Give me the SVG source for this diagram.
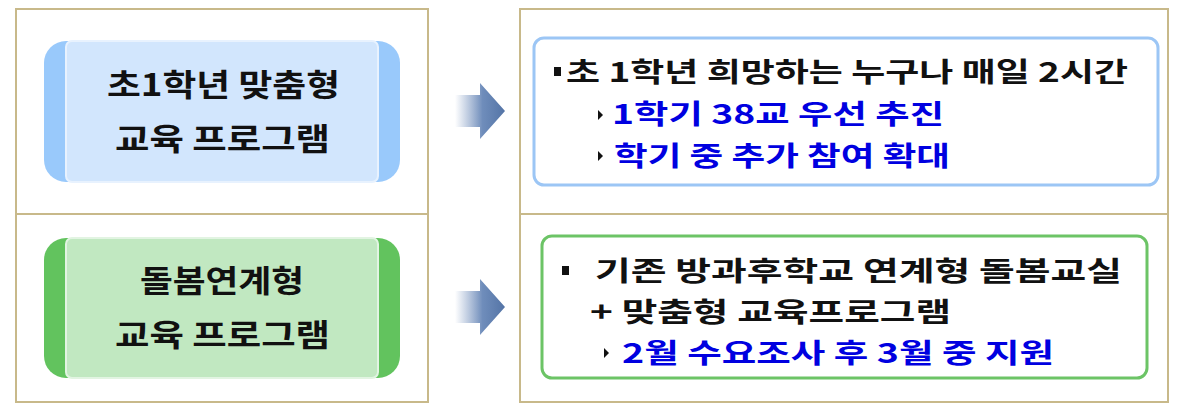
<svg xmlns="http://www.w3.org/2000/svg" width="1180" height="416" viewBox="0 0 1180 416">
<style>
.t{font-family:"Noto Sans CJK KR","Liberation Sans",sans-serif;font-weight:bold}
.lt{font-size:31px;fill:#111}
.rt{font-size:27px;fill:#111}
.bl{font-size:27px;fill:#0000e0}
.frame{fill:#fff;stroke:#c8b98a;stroke-width:2}
</style>
<defs>
<linearGradient id="ag" x1="0" x2="1" y1="0" y2="0">
<stop offset="0" stop-color="#7d97c0" stop-opacity="0"/>
<stop offset="0.55" stop-color="#6f8dbb"/>
<stop offset="1" stop-color="#5474a6"/>
</linearGradient>
</defs>
<rect width="1180" height="416" fill="#fff"/>
<g id="frames">
<rect class="frame" x="16" y="9" width="412" height="393"/>
<line x1="16" y1="214" x2="428" y2="214" stroke="#c8b98a" stroke-width="2"/>
<rect class="frame" x="520" y="9" width="648" height="393"/>
<line x1="520" y1="214" x2="1168" y2="214" stroke="#c8b98a" stroke-width="2"/>
</g>
<g id="node-left1">
<rect x="44" y="41" width="356" height="141" rx="22" fill="#99c9fb"/>
<rect x="66" y="41" width="312" height="141" rx="6" fill="#d2e6fd" stroke="#e8f2fe" stroke-width="2"/>
<text class="t lt" x="107" y="96" textLength="233" lengthAdjust="spacingAndGlyphs">초1학년 맞춤형</text>
<text class="t lt" x="115" y="150" textLength="215" lengthAdjust="spacingAndGlyphs">교육 프로그램</text>
</g>
<g id="node-left2">
<rect x="44" y="238" width="356" height="140" rx="22" fill="#62c35e"/>
<rect x="66" y="238" width="312" height="140" rx="6" fill="#c1e8c1" stroke="#e2f4e2" stroke-width="2"/>
<text class="t lt" x="140" y="292" textLength="164" lengthAdjust="spacingAndGlyphs">돌봄연계형</text>
<text class="t lt" x="115" y="346" textLength="215" lengthAdjust="spacingAndGlyphs">교육 프로그램</text>
</g>
<g id="connectors">
<polygon points="455,95 480,95 480,83 505,111 480,139 480,127 455,127" fill="url(#ag)"/>
<polygon points="455,291 480,291 480,279 505,307 480,335 480,323 455,323" fill="url(#ag)"/>
</g>
<g id="node-right1">
<rect x="534" y="38" width="624" height="147" rx="10" fill="#fff" stroke="#9cc6f5" stroke-width="3"/>
<rect x="554" y="67" width="7" height="9" fill="#111"/>
<text class="t rt" x="566" y="82" textLength="562" lengthAdjust="spacingAndGlyphs">초 1학년 희망하는 누구나 매일 2시간</text>
<polygon points="598,110 603,115 598,120" fill="#111"/>
<text class="t bl" x="612" y="124" textLength="332" lengthAdjust="spacingAndGlyphs">1학기 38교 우선 추진</text>
<polygon points="598,151 603,156 598,161" fill="#111"/>
<text class="t bl" x="614" y="166" textLength="336" lengthAdjust="spacingAndGlyphs">학기 중 추가 참여 확대</text>
</g>
<g id="node-right2">
<rect x="542" y="236" width="605" height="142" rx="10" fill="#fff" stroke="#6cc466" stroke-width="3"/>
<rect x="562" y="266" width="7" height="9" fill="#111"/>
<text class="t rt" x="595" y="281" textLength="527" lengthAdjust="spacingAndGlyphs">기존 방과후학교 연계형 돌봄교실</text>
<text class="t rt" x="590" y="322" textLength="361" lengthAdjust="spacingAndGlyphs">+ 맞춤형 교육프로그램</text>
<polygon points="604,348 609,353 604,358" fill="#111"/>
<text class="t bl" x="622" y="363" textLength="432" lengthAdjust="spacingAndGlyphs">2월 수요조사 후 3월 중 지원</text>
</g>
</svg>
